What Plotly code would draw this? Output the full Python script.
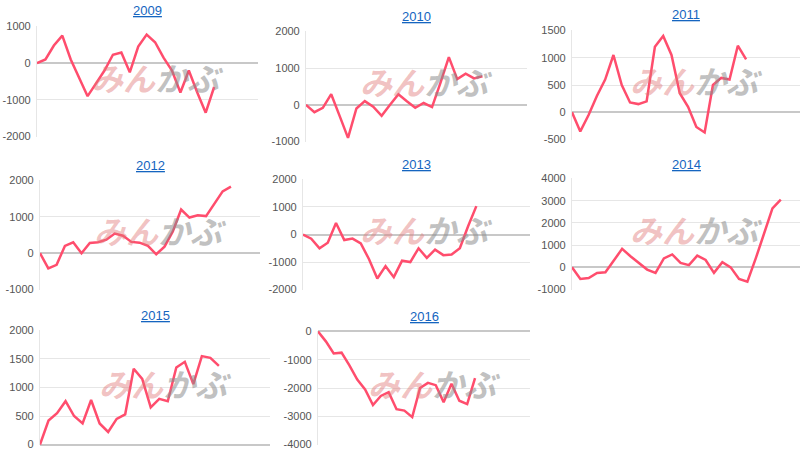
import plotly.graph_objects as go

# 年ごとの推移データ
titles = ["2009", "2010", "2011", "2012", "2013", "2014", "2015", "2016"]

v2009 = [0, 100, 480, 750, 100, -400, -900, -550, -200, 230, 290, -250, 450, 780, 570, 150, -200, -800, -200, -800, -1350, -650]
v2010 = [0, -200, -80, 290, -300, -900, -100, 100, -50, -300, 0, 290, 100, -80, 50, -60, 600, 1300, 700, 850, 720, 780]
v2011 = [0, -350, -50, 300, 600, 1050, 500, 180, 150, 200, 1200, 1400, 1050, 350, 100, -270, -370, 500, 630, 600, 1220, 970]
v2012 = [0, -420, -320, 200, 300, 0, 280, 300, 370, 540, 480, 310, 290, 200, -30, 180, 600, 1200, 980, 1040, 1020, 1350, 1700, 1830]
v2013 = [0, -150, -500, -300, 420, -200, -150, -320, -900, -1600, -1150, -1550, -950, -1000, -500, -850, -550, -750, -730, -500, 300, 1030]
v2014 = [0, -520, -480, -250, -220, 300, 830, 500, 200, -100, -250, 400, 580, 200, 100, 530, 330, -250, 230, 0, -520, -650, 400, 1500, 2650, 3050]
v2015 = [0, 420, 550, 760, 500, 370, 780, 370, 220, 450, 530, 1330, 1150, 650, 800, 760, 1350, 1450, 1060, 1550, 1520, 1380]
v2016 = [0, -350, -780, -750, -1200, -1700, -2050, -2600, -2280, -2150, -2750, -2800, -3030, -2000, -1820, -1900, -2500, -1850, -2450, -2570, -1650]
series = [v2009, v2010, v2011, v2012, v2013, v2014, v2015, v2016]

y_ranges = [[-2000, 1000], [-1000, 2000], [-500, 1500], [-1000, 2000], [-2000, 2000], [-1000, 4000], [0, 2000], [-4000, 0]]
y_dticks = [1000, 1000, 500, 1000, 1000, 1000, 500, 1000]
x_max = [26.2, 26.3, 27.5, 26.5, 27.5, 27.3, 27, 27]

W, H = 800, 457
# plot area in window pixels: left, right, top, bottom
boxes = [
    (37, 258, 26, 137), (306, 527, 31, 142), (572, 800, 30, 140),
    (40, 260, 180, 290), (303, 530, 179, 290), (572, 800, 178, 290),
    (40, 270, 330, 445), (318, 530, 331, 445),
]
title_y = [11, 16, 15, 165, 164, 164, 315, 316]


def px(x):
    return x / W


def py(y):
    return 1 - y / H


fig = go.Figure()
ann = []
for i, (t, vals) in enumerate(zip(titles, series)):
    n = i + 1
    xa = "x" if n == 1 else f"x{n}"
    ya = "y" if n == 1 else f"y{n}"
    fig.add_trace(go.Scatter(x=list(range(len(vals))), y=vals, mode="lines",
                             line=dict(color="#ff4d6d", width=2.5),
                             xaxis=xa, yaxis=ya, showlegend=False, hoverinfo="y"))
    l, r, tp, b = boxes[i]
    lo, hi = y_ranges[i]
    pad = (hi - lo) * 0.004
    tv = list(range(lo, hi + 1, y_dticks[i]))
    fig.layout[f"xaxis{'' if n == 1 else n}"] = dict(
        domain=[px(l), px(r)], range=[0, x_max[i]], showticklabels=False,
        showgrid=False, zeroline=False, anchor=ya, showline=False)
    fig.layout[f"yaxis{'' if n == 1 else n}"] = dict(
        domain=[py(b), py(tp)], range=[lo - pad, hi + pad], tickvals=tv,
        ticktext=[f"{v} " for v in tv],
        anchor=xa, gridcolor="#e6e6e6", zeroline=True, zerolinecolor="#c8c8c8",
        zerolinewidth=1.5, showline=True, linecolor="#e6e6e6",
        tickfont=dict(size=11, color="#555555"), ticks="")
    cx = (l + r) / 2
    ann.append(dict(text=f"<u>{t}</u>", x=px(cx), y=py(title_y[i]), xref="paper", yref="paper",
                    xanchor="center", yanchor="middle", showarrow=False,
                    font=dict(size=13, color="#1565c0")))
    # ウォーターマーク
    ann.append(dict(text="<b><i><span style='color:rgba(225,120,120,0.45)'>みん</span>"
                         "<span style='color:rgba(140,140,140,0.55)'>かぶ</span></i></b>",
                    x=px(cx + 10), y=py((tp + b) / 2 - 5), xref="paper", yref="paper",
                    xanchor="center", yanchor="middle",
                    showarrow=False, font=dict(size=32, family="Noto Sans CJK JP")))

fig.update_layout(width=W, height=H, margin=dict(l=0, r=0, t=0, b=0, autoexpand=False),
                  paper_bgcolor="white", plot_bgcolor="white",
                  font=dict(family="Liberation Sans, Arial, sans-serif"),
                  annotations=ann)
fig.write_html("out.html", config={"displayModeBar": False},
               post_script="document.body.style.margin='0';document.body.style.overflow='hidden';")
